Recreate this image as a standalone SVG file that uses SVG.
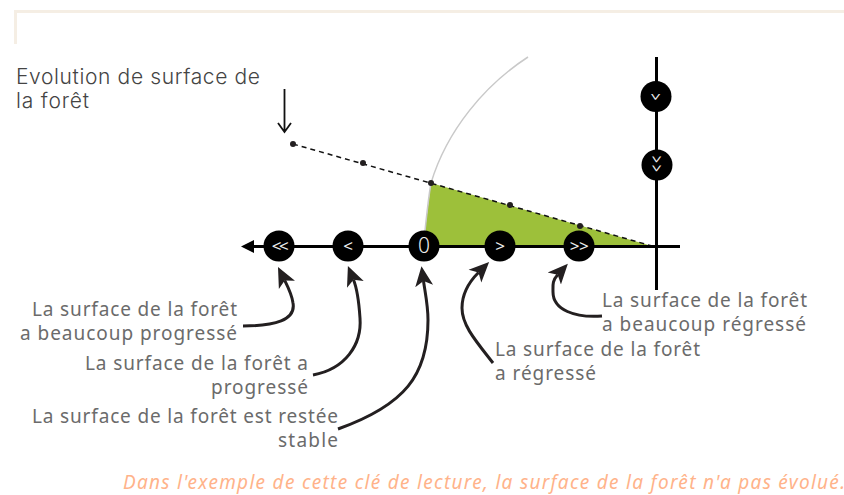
<svg xmlns="http://www.w3.org/2000/svg" width="844" height="495" viewBox="0 0 844 495">
<style>
.t{font-family:"Noto Sans",sans-serif;font-size:19px;fill:#6b6b6b}
.h{font-family:"Inter","Noto Sans",sans-serif;font-size:21px;font-weight:300;fill:#444}
.o{font-family:"Noto Sans",sans-serif;font-size:19px;font-style:italic;fill:#ffb38a}
.s{font-family:"Noto Sans",sans-serif;font-size:17px;fill:#eee;text-anchor:middle}
.c{fill:none;stroke:#231f20;stroke-width:3;marker-end:url(#st)}
.d{fill:#231f20}
.n{fill:#000}
</style>
<defs>
<marker id="st" markerUnits="userSpaceOnUse" markerWidth="24" markerHeight="24" refX="5" refY="12" orient="auto" viewBox="0 0 24 24">
<path d="M20,12 L0,3 L5,12 L0,21 Z" fill="#231f20"/>
</marker>
</defs>
<path id="frame" d="M15.500,44 V11.500 H844" fill="none" stroke="#f5eee4" stroke-width="3"/>
<g id="chart">
<path d="M431,183 L423,246 H652 Z" fill="#9dc03a"/>
<path d="M424,240 C426,222 428,200 431,183 C447,130 485,85 528,57" fill="none" stroke="#c9c9c9" stroke-width="1.500"/>
<path d="M293,144 L652,246" fill="none" stroke="#111" stroke-width="1.500" stroke-dasharray="5 4"/>
<path d="M254,246.500 H680 M656.500,57 V290" fill="none" stroke="#000" stroke-width="3"/>
<path d="M241,246.500 L254,240 V253 Z" fill="#000"/>
<circle class="d" cx="293" cy="144" r="3"/>
<circle class="d" cx="363" cy="163" r="3"/>
<circle class="d" cx="431" cy="183" r="3"/>
<circle class="d" cx="510" cy="205" r="3"/>
<circle class="d" cx="580" cy="226" r="3"/>
</g>
<g id="connectors">
<path class="c" d="M243,326 C275,326 296,320 293,303 C292,295 288,287 284.700,280.400"/>
<path class="c" d="M313,375 C345,369 362,345 360,318 C359,303 358,291 353.500,279.800"/>
<path class="c" d="M338,429 C405,405 428,375 428,320 C428,305 425,292 423.500,281"/>
<path class="c" d="M493,363 C475,340 462,325 462,308 C462,294 470,281 478.500,272.500"/>
<path class="c" d="M602,316 C575,318 553,310 553,292 C553,285 552,281 557.700,274.800"/>
<path d="M284.500,89 V131 M278,123 L284.500,132 L291,123" fill="none" stroke="#111" stroke-width="1.800"/>
</g>
<g id="node-pp"><circle class="n" cx="279" cy="246" r="15.500"/><text class="s" x="279" y="252" letter-spacing="-2.500">&lt;&lt;</text></g>
<g id="node-p"><circle class="n" cx="348" cy="246" r="15.500"/><text class="s" x="348" y="252">&lt;</text></g>
<g id="node-0"><circle class="n" cx="424" cy="246" r="15.500"/><text class="s" x="424" y="253" style="font-size:21px;font-weight:300">0</text></g>
<g id="node-r"><circle class="n" cx="500" cy="246" r="15.500"/><text class="s" x="500" y="252">&gt;</text></g>
<g id="node-rr"><circle class="n" cx="579" cy="246" r="15.500"/><text class="s" x="579" y="252" letter-spacing="-0.500">&gt;&gt;</text></g>
<g id="node-v1"><circle class="n" cx="656" cy="96.500" r="15.500"/><text class="s" transform="translate(656 97) rotate(90) scale(0.700 1.100)" y="6">&gt;</text></g>
<g id="node-v2"><circle class="n" cx="657" cy="165" r="15.500"/><text class="s" transform="translate(657 165) rotate(90) scale(0.700 1.100)" y="6" letter-spacing="3">&gt;&gt;</text></g>
<g id="labels">
<text class="h" x="16" y="84" textLength="244">Evolution de surface de</text>
<text class="h" x="16" y="108" textLength="73">la forêt</text>
<text class="t" x="32" y="316" textLength="205">La surface de la forêt</text>
<text class="t" x="20" y="340" textLength="217">a beaucoup progressé</text>
<text class="t" x="85" y="370" textLength="223">La surface de la forêt a</text>
<text class="t" x="211" y="394" textLength="97">progressé</text>
<text class="t" x="32" y="423" textLength="306">La surface de la forêt est restée</text>
<text class="t" x="278" y="447" textLength="60">stable</text>
<text class="t" x="602" y="306.500" textLength="205">La surface de la forêt</text>
<text class="t" x="602" y="330.500" textLength="204">a beaucoup régressé</text>
<text class="t" x="495" y="356" textLength="205">La surface de la forêt</text>
<text class="t" x="495" y="380" textLength="101">a régressé</text>
<text class="o" x="123" y="489" textLength="722">Dans l'exemple de cette clé de lecture, la surface de la forêt n'a pas évolué.</text>
</g>
</svg>
